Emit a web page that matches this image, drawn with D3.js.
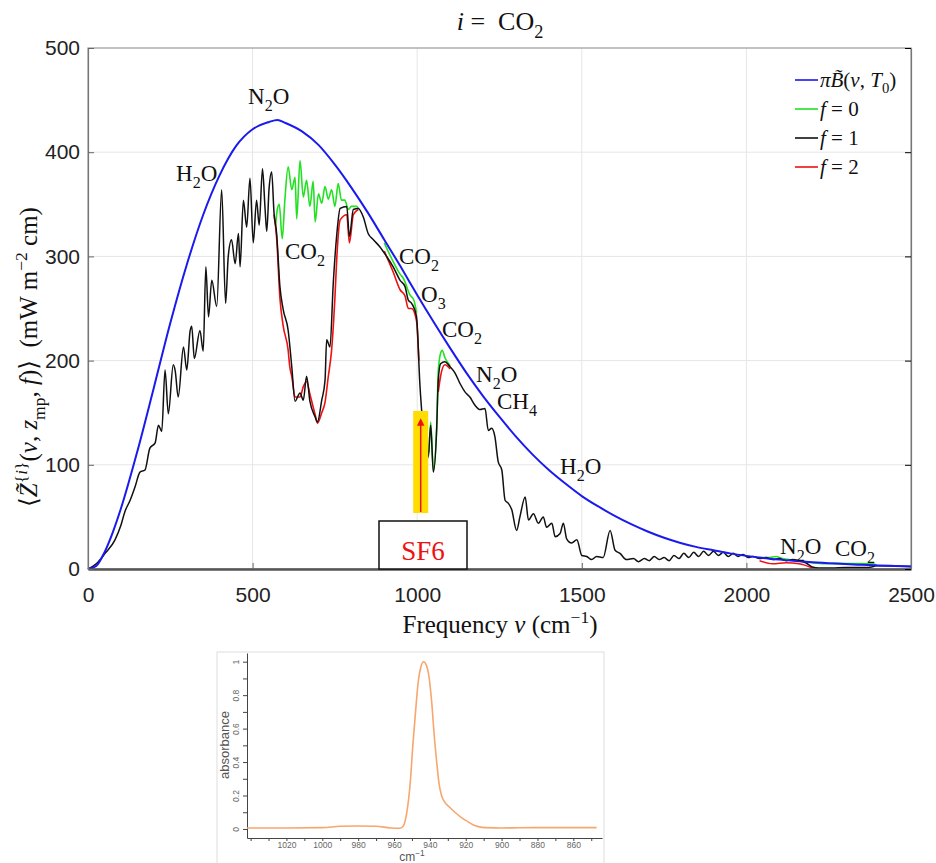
<!DOCTYPE html>
<html>
<head>
<meta charset="utf-8">
<script src="https://cdn.jsdelivr.net/npm/d3@7"></script>
<style>
body { margin: 0; background: #fff; }
svg { display: block; }
text { white-space: pre; }
</style>
</head>
<body>
<svg width="936" height="863"></svg>
<script>
// ---- data: [frequency cm^-1, value mW m^-2 cm] ----
const planck = [[0,0],[25,3],[50,16],[75,35],[100,58],[150,113],[200,174],[250,236],[300,292],[350,340],[400,378],[450,406],[500,422],[550,429],[575,431],[600,428],[650,420],[700,407],[750,388],[800,366],[850,342],[900,316],[950,290],[1000,263],[1050,237],[1100,212],[1150,188],[1200,166],[1250,146],[1300,127],[1350,110],[1400,95],[1450,82],[1500,70],[1550,60],[1600,51],[1650,43],[1700,36],[1750,30],[1800,25],[1850,21],[1900,18],[1950,15],[2000,12.6],[2050,10.6],[2100,9],[2150,7.6],[2200,6.5],[2250,5.6],[2300,4.7],[2350,4],[2400,3.4],[2450,2.9],[2500,2.5]];

const f1 = [[0,0],[25,5],[52,15],[82,28],[100,42],[112,55],[128,66],[143,79],[158,93],[173,95],[188,116],[204,121],[214,138],[224,132],[234,191],[244,149],[259,196],[265,190],[274,165],[290,213],[300,191],[310,228],[315,233],[323,202],[340,229],[350,209],[358,290],[366,242],[376,277],[391,252],[406,364],[418,255],[426,300],[436,316],[447,293],[457,322],[462,290],[472,354],[482,328],[492,375],[502,313],[512,354],[520,330],[530,384],[538,345],[543,324],[550,365],[558,381],[565,342],[573,322],[583,271],[593,249],[608,229],[619,194],[629,161],[644,169],[654,162],[664,185],[674,161],[690,146],[697,141],[710,162],[720,181],[725,220],[735,213],[745,274],[756,322],[766,346],[786,348],[794,319],[806,345],[821,346],[836,338],[851,322],[867,316],[887,309],[907,300],[927,290],[948,277],[963,271],[973,258],[983,255],[998,242],[1008,178],[1019,130],[1026,104],[1034,109],[1041,138],[1049,93],[1059,133],[1064,181],[1071,197],[1084,199],[1100,194],[1115,188],[1130,178],[1145,170],[1160,165],[1176,157],[1191,153],[1206,154],[1216,133],[1226,135],[1236,127],[1246,103],[1257,95],[1267,66],[1277,63],[1287,57],[1302,37],[1312,50],[1328,69],[1338,47],[1353,53],[1368,44],[1383,50],[1393,40],[1409,44],[1419,31],[1434,34],[1444,44],[1454,29],[1469,25],[1485,28],[1500,13],[1515,12],[1530,9],[1545,12],[1565,11],[1586,37],[1601,18],[1616,15],[1636,9],[1657,10],[1672,7],[1690,10],[1705,8],[1720,12],[1735,9],[1750,11],[1765,8],[1780,13],[1795,10],[1810,15],[1825,11],[1840,16],[1855,12],[1870,17],[1885,13],[1900,17],[1915,13],[1930,16],[1945,12],[1960,15],[1975,12],[1990,14],[2005,11],[2020,12],[2040,10],[2060,11],[2080,9],[2100,10],[2120,8],[2140,9],[2160,8],[2180,6],[2200,2],[2220,1],[2260,1],[2300,1.5],[2360,1.5],[2380,2],[2395,3],[2450,2.8],[2500,2.5]];

// f = 0 and f = 2 only where they part from f = 1
const f0Band = [[570,330],[575,345],[581,350],[590,317],[598,354],[608,386],[619,364],[629,376],[634,336],[644,392],[654,357],[664,373],[674,348],[684,372],[690,333],[700,360],[710,351],[720,367],[730,355],[740,364],[750,348],[760,370],[770,354],[780,354],[791,345],[800,348],[816,348],[821,346]];
const f0Window = [[900,313],[927,295],[948,283],[958,279],[978,263],[990,258],[998,246]];
const f0Peak = [[1036,112],[1041,141],[1049,95],[1059,135],[1064,190],[1071,207],[1076,210],[1084,203],[1100,195]];
const f0Tail = [[2040,11],[2070,11],[2090,12],[2110,10],[2160,8],[2200,6],[2240,5],[2265,5.6],[2300,5.3],[2340,5.2],[2386,5],[2395,3.5]];

const f2Band = [[565,340],[573,318],[583,260],[593,233],[608,210],[613,194],[619,185],[629,165],[644,165],[654,175],[664,180],[674,168],[690,148],[697,140],[710,150],[720,160],[730,185],[740,210],[750,260],[756,300],[766,335],[786,340],[794,313],[806,340],[821,345]];
const f2Window = [[900,305],[927,285],[948,268],[963,262],[973,250],[983,250],[998,238],[1005,200]];
const f2Peak = [[1064,170],[1071,185],[1084,196],[1100,192]];
const f2Tail = [[2040,8],[2080,5],[2120,6],[2160,5],[2200,1]];

const xTicks = [0, 500, 1000, 1500, 2000, 2500];
const yTicks = [0, 100, 200, 300, 400, 500];

const labels = [
	{ x: 248, y: 104, parts: [["N"], ["2", "sub"], ["O"]] },
	{ x: 176, y: 181, parts: [["H"], ["2", "sub"], ["O"]] },
	{ x: 285, y: 259, parts: [["CO"], ["2", "sub"]] },
	{ x: 399, y: 264, parts: [["CO"], ["2", "sub"]] },
	{ x: 421, y: 302, parts: [["O"], ["3", "sub"]] },
	{ x: 442, y: 337, parts: [["CO"], ["2", "sub"]] },
	{ x: 476, y: 382, parts: [["N"], ["2", "sub"], ["O"]] },
	{ x: 497, y: 409, parts: [["CH"], ["4", "sub"]] },
	{ x: 560, y: 474, parts: [["H"], ["2", "sub"], ["O"]] },
	{ x: 780, y: 554, parts: [["N"], ["2", "sub"], ["O"]] },
	{ x: 835, y: 556, parts: [["CO"], ["2", "sub"]] },
];

// inset: SF6 absorbance spectrum
const sf6 = [[1042,0.006],[1020,0.006],[1000,0.008],[990,0.016],[980,0.018],[970,0.016],[962,0.006],[957,0.004],[955,0.015],[953,0.09],[951,0.27],[949.5,0.5],[948,0.7],[946.5,0.88],[945,0.97],[943.5,1.0],[942,0.98],[940.5,0.91],[939,0.76],[937.5,0.55],[936,0.38],[935,0.28],[933.5,0.2],[932,0.165],[929,0.13],[926,0.1],[922,0.065],[919,0.045],[916,0.025],[913,0.014],[909,0.008],[900,0.006],[890,0.007],[880,0.008],[860,0.008],[847,0.008]];
const sf6Ticks = d3.range(1040, 849, -10);
const absTicks = d3.range(0, 1.001, 0.1);

// ---- drawing ----
const serif = "'Liberation Serif', 'DejaVu Serif', serif";
const sans = "'Liberation Sans', Arial, sans-serif";

const rich = (sel, parts, size) => {
	let off = 0;
	parts.forEach(([t, kind = ""]) => {
		const shift = kind.includes("sub") ? size * 0.3 : kind.includes("sup") ? -size * 0.42 : 0;
		const ts = sel.append("tspan").text(t).attr("dy", shift - off);
		off = shift;
		if (kind.includes("it")) ts.attr("font-style", "italic");
		if (shift !== 0) ts.attr("font-size", size * 0.7);
	});
};

const svg = d3.select("svg");
svg.append("rect").attr("width", 936).attr("height", 863).attr("fill", "#fff");

const x = d3.scaleLinear().domain([0, 2500]).range([88, 911]);
const y = d3.scaleLinear().domain([0, 500]).range([569, 48]);

const grid = svg.append("g").attr("stroke", "#e6e6e6").attr("stroke-width", 1);
grid.selectAll(".gx").data(xTicks.slice(1, -1)).join("line")
	.attr("x1", (d) => x(d)).attr("x2", (d) => x(d)).attr("y1", y(500)).attr("y2", y(0));
grid.selectAll(".gy").data(yTicks.slice(1, -1)).join("line")
	.attr("x1", x(0)).attr("x2", x(2500)).attr("y1", (d) => y(d)).attr("y2", (d) => y(d));

svg.append("rect")
	.attr("x", x(0)).attr("y", y(500))
	.attr("width", x(2500) - x(0)).attr("height", y(0) - y(500))
	.attr("fill", "none").attr("stroke", "#9a9a9a").attr("stroke-width", 1.2);

const line = d3.line().x((d) => x(d[0])).y((d) => y(d[1])).curve(d3.curveMonotoneX);
const curves = svg.append("g").attr("fill", "none").attr("stroke-linejoin", "round");
[f0Band, f0Window, f0Peak, f0Tail].forEach((s) =>
	curves.append("path").attr("d", line(s)).attr("stroke", "#22e022").attr("stroke-width", 1.6));
[f2Band, f2Window, f2Peak, f2Tail].forEach((s) =>
	curves.append("path").attr("d", line(s)).attr("stroke", "#ee1111").attr("stroke-width", 1.6));
curves.append("path").attr("d", line(f1)).attr("stroke", "#111").attr("stroke-width", 1.5);
curves.append("path").attr("d", line(planck)).attr("stroke", "#1a1aee").attr("stroke-width", 2);

// axes
const xAxisG = svg.append("g").attr("transform", `translate(0,${y(0)})`)
	.call(d3.axisBottom(x).tickValues(xTicks).tickFormat(d3.format("d"))
		.tickSizeInner(-6).tickSizeOuter(0).tickPadding(18));
const yAxisG = svg.append("g").attr("transform", `translate(${x(0)},0)`)
	.call(d3.axisLeft(y).tickValues(yTicks).tickFormat(d3.format("d"))
		.tickSizeInner(-6).tickSizeOuter(0).tickPadding(8));
svg.append("g").attr("transform", `translate(${x(2500)},0)`)
	.call(d3.axisRight(y).tickValues(yTicks).tickSizeInner(-6).tickSizeOuter(0).tickFormat(""));
[xAxisG, yAxisG].forEach((g) => {
	g.selectAll("text").attr("font-family", sans).attr("font-size", 21).attr("fill", "#222");
	g.selectAll(".tick line").attr("stroke", "#666");
});
svg.selectAll(".domain").attr("stroke", "#777").attr("stroke-width", 1.2);
xAxisG.select(".domain").attr("stroke", "#555").attr("stroke-width", 2.5);

// title
rich(svg.append("text").attr("x", 500).attr("y", 30).attr("text-anchor", "middle")
	.attr("font-family", serif).attr("font-size", 26).attr("fill", "#111"),
	[["i", "it"], [" =  CO"], ["2", "sub"]], 26);

// axis titles
rich(svg.append("text").attr("x", 500).attr("y", 633).attr("text-anchor", "middle")
	.attr("font-family", serif).attr("font-size", 25).attr("fill", "#111"),
	[["Frequency "], ["ν", "it"], [" (cm"], ["−1", "sup"], [")"]], 25);

rich(svg.append("text").attr("transform", "translate(37,357) rotate(-90)").attr("text-anchor", "middle")
	.attr("font-family", serif).attr("font-size", 25).attr("fill", "#111"),
	[["⟨"], ["Z̃", "it"], ["{", "sup"], ["i", "sup it"], ["}", "sup"], ["("], ["ν", "it"], [", "], ["z", "it"], ["mp", "sub"],
	 [", "], ["f", "it"], [")⟩  (mW m"], ["−2", "sup"], [" cm)"]], 25);

// gas labels
labels.forEach((l) => rich(svg.append("text").attr("x", l.x).attr("y", l.y)
	.attr("font-family", serif).attr("font-size", 23).attr("fill", "#111"), l.parts, 23));

// legend
const legendItems = [
	{ color: "#1a1aee", parts: [["π", "it"], ["B̃", "it"], ["("], ["ν", "it"], [", "], ["T", "it"], ["0", "sub"], [")"]] },
	{ color: "#22e022", parts: [["f", "it"], [" = 0"]] },
	{ color: "#111", parts: [["f", "it"], [" = 1"]] },
	{ color: "#ee1111", parts: [["f", "it"], [" = 2"]] },
];
const legend = svg.append("g").attr("transform", "translate(795,80)");
legendItems.forEach((d, i) => {
	const g = legend.append("g").attr("transform", `translate(0,${i * 29})`);
	g.append("line").attr("x1", 0).attr("x2", 23).attr("stroke", d.color).attr("stroke-width", 1.6);
	rich(g.append("text").attr("x", 25).attr("y", 7).attr("font-family", serif)
		.attr("font-size", 21).attr("fill", "#111"), d.parts, 21);
});

// SF6 marker
const sf6Nu = 1000;
svg.append("rect").attr("x", x(sf6Nu) - 4).attr("y", 411).attr("width", 15).attr("height", 102).attr("fill", "#ffdd00");
svg.append("defs").append("marker").attr("id", "head").attr("viewBox", "0 0 10 10")
	.attr("refX", 5).attr("refY", 5).attr("markerWidth", 5).attr("markerHeight", 6).attr("orient", "auto")
	.append("path").attr("d", "M0,0 L10,5 L0,10 z").attr("fill", "#ee1111");
svg.append("line").attr("x1", x(sf6Nu) + 3.5).attr("x2", x(sf6Nu) + 3.5).attr("y1", 512).attr("y2", 422)
	.attr("stroke", "#ee1111").attr("stroke-width", 1.5).attr("marker-end", "url(#head)");
svg.append("rect").attr("x", 379).attr("y", 521).attr("width", 88).attr("height", 48)
	.attr("fill", "#fff").attr("stroke", "#111").attr("stroke-width", 1.5);
svg.append("text").attr("x", 423).attr("y", 560).attr("text-anchor", "middle")
	.attr("font-family", serif).attr("font-size", 27).attr("fill", "#ee1111").text("SF6");

// inset spectrum
const inset = svg.append("g");
inset.append("rect").attr("x", 217).attr("y", 652).attr("width", 387).attr("height", 230)
	.attr("fill", "#fff").attr("stroke", "#dddddd").attr("stroke-width", 1);
const xi = d3.scaleLinear().domain([1042, 844]).range([247, 602]);
const yi = d3.scaleLinear().domain([-0.054, 1.052]).range([838, 653]);

const xiG = inset.append("g").attr("transform", "translate(0,838)")
	.call(d3.axisBottom(xi).tickValues(sf6Ticks)
		.tickFormat((d) => (d % 20 === 0 && d < 1040 ? d : ""))
		.tickSize(3).tickSizeOuter(0).tickPadding(1));
const yiG = inset.append("g").attr("transform", "translate(247,0)")
	.call(d3.axisLeft(yi).tickValues(absTicks)
		.tickFormat((d) => { const r = Math.round(d * 10); return r % 2 === 0 ? (r === 0 ? "0" : r === 10 ? "1" : d3.format(".1f")(d)) : ""; })
		.tickSize(4).tickSizeOuter(0));
yiG.selectAll("text").attr("transform", "rotate(-90)").attr("x", 0).attr("y", -8).attr("dy", 0)
	.attr("text-anchor", "middle");
[xiG, yiG].forEach((g) => {
	g.selectAll("text").attr("font-family", sans).attr("font-size", 8.5).attr("fill", "#666");
	g.selectAll("line, .domain").attr("stroke", "#444");
});

inset.append("path")
	.attr("d", d3.line().x((d) => xi(d[0])).y((d) => yi(d[1])).curve(d3.curveMonotoneX)(sf6))
	.attr("fill", "none").attr("stroke", "#f7a66e").attr("stroke-width", 1.6);

inset.append("text").attr("transform", "translate(229,745) rotate(-90)").attr("text-anchor", "middle")
	.attr("font-family", sans).attr("font-size", 13).attr("fill", "#555").text("absorbance");
rich(inset.append("text").attr("x", 412).attr("y", 861).attr("text-anchor", "middle")
	.attr("font-family", sans).attr("font-size", 12).attr("fill", "#555"), [["cm"], ["−1", "sup"]], 12);
</script>
</body>
</html>
